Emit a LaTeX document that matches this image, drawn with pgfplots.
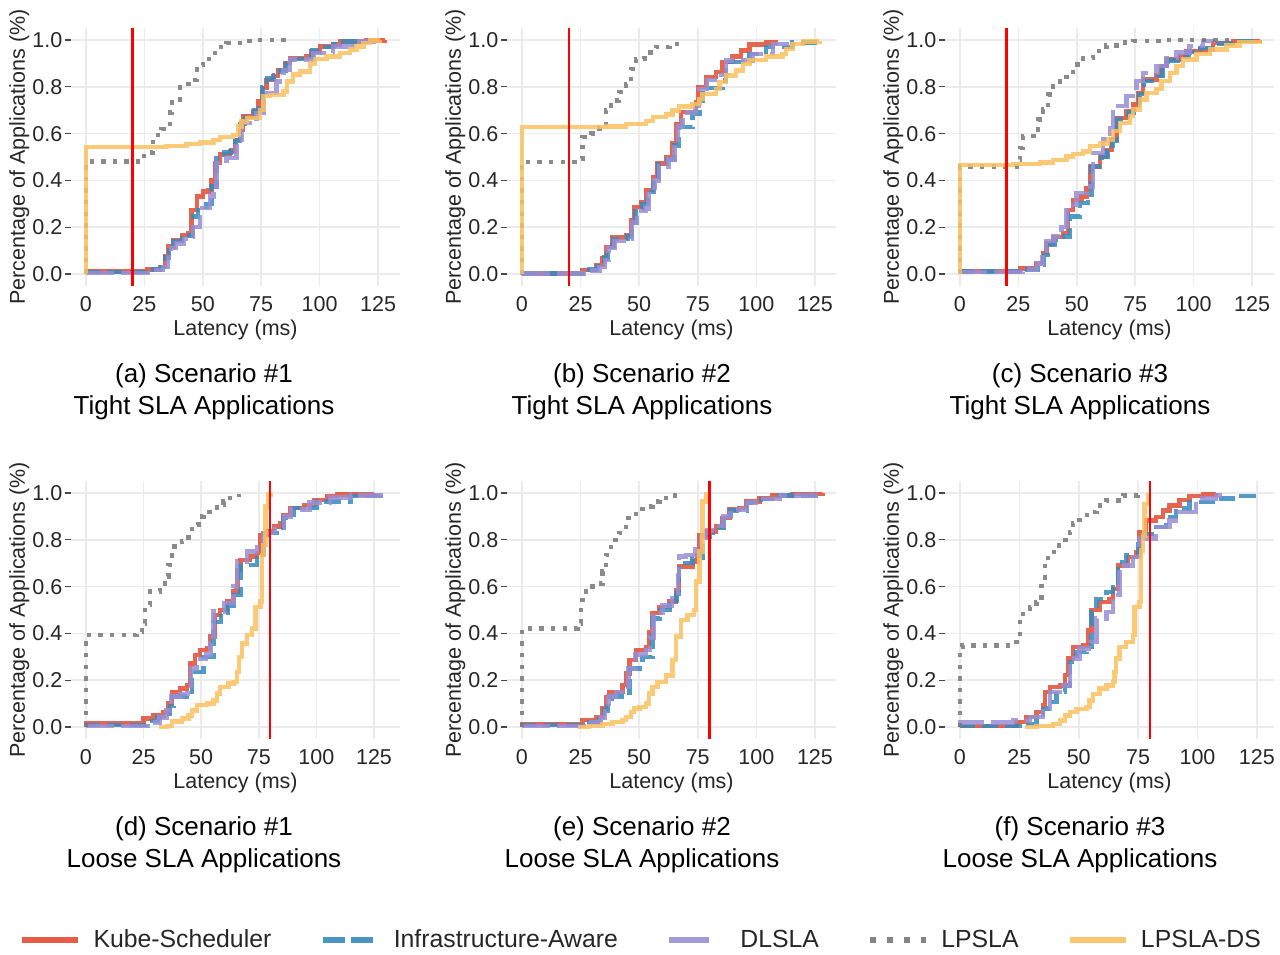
\documentclass[border=0pt]{standalone}
\usepackage{fontspec}
\setmainfont{Liberation Sans}
\usepackage{pgfplots}
\pgfplotsset{compat=1.18}

\definecolor{ckube}{HTML}{E24A33}
\definecolor{cinfra}{HTML}{348ABD}
\definecolor{cdlsla}{HTML}{988ED5}
\definecolor{clpsla}{HTML}{777777}
\definecolor{cds}{HTML}{FBC15E}
\definecolor{txt}{HTML}{262626}

\pgfplotsset{
  cdf/.style={
    width=164.5pt, height=128.7pt, scale only axis,
    ymin=-0.05, ymax=1.05,
    xtick={0,25,50,75,100,125},
    ytick={0,0.2,0.4,0.6,0.8,1.0},
    /pgf/number format/assume math mode=true,
    grid=major, grid style={draw=black!8, line width=0.8pt},
    axis line style={draw=none},
    tick align=outside, major tick length=2.8pt,
    ytick pos=left, xtick pos=bottom,
    ytick style={draw=txt!85, line width=0.6pt},
    xtick style={draw=none},
    tick label style={font=\fontsize{10.75}{12}\selectfont, text=txt},
    yticklabel style={xshift=2pt, /pgf/number format/.cd, fixed, fixed zerofill, precision=1},
    xticklabel style={yshift=1pt},
    label style={font=\fontsize{10.75}{12}\selectfont, text=txt},
    xlabel={Latency (ms)},
    ylabel={Percentage of Applications (\%)},
    xlabel style={at={(axis description cs:0.5,-0.170)}, anchor=center},
    ylabel style={at={(axis description cs:-0.157,0.5)}, anchor=center},
  },
  kube/.style={const plot, ckube, line width=2.2pt, opacity=0.85, forget plot},
  infra/.style={const plot, cinfra, line width=2.2pt, opacity=0.85, dash pattern=on 8.1pt off 3.5pt, forget plot},
  dlsla/.style={const plot, cdlsla, line width=2.2pt, opacity=0.85, dash pattern=on 14.5pt off 3.5pt, forget plot},
  lpsla/.style={const plot, clpsla, line width=2.2pt, opacity=0.85, dash pattern=on 2.2pt off 3.6pt, forget plot},
  lpslads/.style={const plot, cds, line width=2.2pt, opacity=0.85, forget plot},
  sla/.style={red, line width=1.2pt, forget plot},
}

\newcommand{\capfont}{\fontsize{13}{15}\selectfont}

\begin{document}
\begin{tikzpicture}
\useasboundingbox (0,0) rectangle (640pt,-477pt);

% (a) Scenario 1, tight SLA
\begin{axis}[cdf, at={(35.5pt,-14.15pt)}, anchor=north west, xmin=-6.4, xmax=134.4]
\addplot[kube] coordinates {(0,0)(0,0.01)(22,0.01)(26,0.02)(31.7,0.031)(33.8,0.074)(35.2,0.117)(37.4,0.146)(41,0.167)(43.8,0.174)(45.2,0.274)(47.4,0.331)(50.2,0.352)(52.4,0.36)(53.8,0.402)(55.2,0.474)(57.3,0.514)(61.6,0.524)(63.8,0.573)(65.9,0.616)(67.3,0.673)(71.6,0.695)(73.8,0.737)(75.3,0.795)(77.3,0.83)(80.2,0.847)(82.3,0.873)(85.2,0.902)(87.3,0.923)(94.4,0.93)(96.6,0.951)(100.1,0.973)(105.8,0.98)(108.7,0.994)(120,0.998)(128,1.0)};
\addplot[infra] coordinates {(0,0)(0,0.008)(23,0.008)(27,0.02)(32,0.03)(34,0.07)(35.5,0.12)(37.5,0.14)(41,0.155)(44,0.165)(45.9,0.245)(48,0.288)(51.6,0.30)(53.8,0.374)(55.9,0.51)(59,0.52)(62,0.53)(64,0.57)(66,0.64)(68,0.68)(72,0.70)(74,0.74)(75.5,0.80)(77.5,0.835)(80.5,0.85)(83,0.87)(85.5,0.9)(88,0.92)(95,0.93)(97,0.955)(101,0.97)(106,0.98)(109,0.993)(120,1.0)};
\addplot[dlsla] coordinates {(0,0)(0,0.005)(24,0.005)(28,0.018)(33,0.03)(35,0.07)(36.5,0.11)(38.5,0.13)(42,0.15)(44.5,0.16)(45.9,0.2)(48.8,0.281)(53,0.331)(54.5,0.36)(55.9,0.474)(60.2,0.495)(64.5,0.573)(66.6,0.645)(73,0.688)(75.9,0.773)(81.6,0.823)(84.5,0.873)(87.3,0.916)(97.3,0.944)(105.8,0.973)(114.4,0.994)(123,1.0)};
\addplot[lpsla] coordinates {(0,0)(0,0.48)(24.8,0.52)(28.8,0.595)(32.4,0.62)(36,0.69)(36.7,0.745)(40.2,0.80)(43.8,0.83)(47.4,0.894)(50.2,0.92)(55.2,0.97)(60.2,0.987)(67.3,0.996)(72,1.0)(85.9,1.0)};
\addplot[lpslads] coordinates {(0,0)(0,0.542)(34.5,0.548)(43,0.555)(48.8,0.562)(54.5,0.573)(57.3,0.585)(63,0.595)(65.2,0.63)(66.6,0.652)(68.8,0.666)(74.5,0.70)(75.9,0.76)(78.7,0.766)(84.5,0.78)(86,0.823)(88.7,0.852)(91.6,0.866)(95.9,0.90)(98,0.92)(103,0.93)(108.7,0.944)(113,0.959)(115.8,0.973)(118.7,0.987)(121.5,0.998)(125.8,1.0)};
\addplot[sla] coordinates {(20,-0.05)(20,1.05)};
\end{axis}

% (b) Scenario 2, tight SLA
\begin{axis}[cdf, at={(253.5pt,-14.15pt)}, anchor=north west, xmin=-6.38, xmax=133.98]
\addplot[kube] coordinates {(0,0)(0,0.003)(22,0.003)(25.9,0.017)(31.6,0.038)(34.4,0.067)(35.8,0.116)(38.7,0.156)(44.4,0.166)(46.5,0.23)(47.9,0.287)(50.8,0.308)(52.9,0.358)(55.8,0.415)(57.9,0.472)(61.5,0.5)(64.3,0.557)(65.7,0.642)(67.9,0.692)(74.3,0.734)(75,0.798)(78.5,0.841)(82.8,0.862)(85.6,0.905)(89.9,0.929)(93.5,0.955)(97,0.98)(104.1,0.99)(108.4,1.0)};
\addplot[infra] coordinates {(0,0)(0,0.003)(24,0.003)(26.5,0.02)(32,0.035)(35,0.07)(36.5,0.12)(39,0.15)(45,0.16)(47,0.22)(48.5,0.28)(51.5,0.3)(53.5,0.35)(56.2,0.41)(58.3,0.47)(62,0.49)(65,0.55)(67.1,0.628)(72.8,0.685)(75.7,0.741)(77.1,0.795)(85.6,0.827)(87.1,0.905)(97,0.94)(104.1,0.969)(115.5,0.99)(126.9,0.996)};
\addplot[dlsla] coordinates {(0,0)(0,0.002)(25,0.002)(28,0.015)(33,0.03)(35.5,0.06)(37,0.11)(39.5,0.14)(45.5,0.15)(47,0.22)(49,0.27)(53,0.28)(54,0.34)(56.5,0.4)(58.5,0.46)(62.5,0.49)(65,0.55)(66.5,0.63)(68.5,0.69)(74,0.72)(75.5,0.79)(79,0.83)(84,0.85)(87.1,0.912)(98.4,0.94)(107,0.983)(114.8,1.0)};
\addplot[lpsla] coordinates {(0,0)(0,0.479)(24.5,0.493)(25.9,0.585)(29.4,0.6)(33,0.628)(35.8,0.699)(38,0.741)(41.5,0.777)(44.4,0.8125)(46.5,0.876)(48.6,0.919)(52.2,0.947)(57.2,0.969)(62.9,0.983)(67.4,0.99)};
\addplot[lpslads] coordinates {(0,0)(0,0.628)(35.8,0.631)(44.4,0.642)(52.9,0.653)(55.8,0.67)(61.5,0.682)(64.3,0.699)(67.1,0.716)(72.8,0.727)(75.7,0.749)(77.1,0.77)(82.8,0.791)(84.2,0.82)(87.1,0.848)(91.3,0.869)(94.2,0.898)(97,0.915)(104.1,0.929)(111.2,0.94)(112.7,0.962)(115.5,0.983)(119.8,0.994)(126.9,0.997)};
\addplot[sla] coordinates {(20,-0.05)(20,1.05)};
\end{axis}

% (c) Scenario 3, tight SLA
\begin{axis}[cdf, at={(472.5pt,-14.15pt)}, anchor=north west, xmin=-6.4, xmax=134.4]
\addplot[kube] coordinates {(0,0)(0,0.014)(22.8,0.014)(25.7,0.024)(32.8,0.046)(35.6,0.089)(37,0.131)(39.9,0.157)(44.2,0.174)(46.3,0.274)(48.5,0.317)(52,0.331)(54.2,0.367)(55.9,0.46)(59.9,0.503)(62.7,0.531)(64.9,0.574)(67,0.667)(71.3,0.696)(74.1,0.724)(76.3,0.774)(78.4,0.831)(84.1,0.849)(86.2,0.889)(88.4,0.917)(94.1,0.931)(96.9,0.953)(102.6,0.96)(108.3,0.986)(116.9,0.996)(128.3,1.0)};
\addplot[infra] coordinates {(0,0)(0,0.01)(23.5,0.01)(26.5,0.02)(33.5,0.04)(36,0.08)(37.5,0.125)(40.5,0.145)(44.5,0.16)(47,0.246)(51.3,0.303)(54.9,0.317)(56.3,0.46)(60.5,0.5)(63.2,0.525)(65.3,0.57)(67.3,0.66)(71.8,0.69)(74.5,0.72)(76.8,0.77)(78.8,0.825)(84.5,0.845)(86.6,0.885)(88.8,0.912)(95,0.93)(98,0.95)(103,0.965)(109,0.985)(118,0.996)(127,1.0)};
\addplot[dlsla] coordinates {(0,0)(0,0.008)(24.5,0.008)(27,0.02)(33,0.045)(35.3,0.1)(36.8,0.14)(40,0.16)(43.5,0.2)(45.6,0.296)(49.9,0.346)(54.2,0.374)(57,0.517)(61.3,0.574)(64.1,0.624)(65.6,0.717)(71.3,0.76)(75.5,0.824)(78.4,0.86)(84.1,0.889)(88.4,0.924)(92.6,0.946)(98.3,0.974)(104,0.996)(108.3,1.0)};
\addplot[lpsla] coordinates {(0,0)(0,0.46)(24.2,0.489)(25.7,0.539)(27.1,0.589)(31.4,0.617)(33.5,0.66)(35.6,0.703)(37.8,0.767)(39.9,0.803)(42.8,0.824)(45.6,0.853)(48.5,0.896)(52.7,0.924)(57,0.953)(62.7,0.977)(68.4,0.989)(74.1,0.996)(86.9,1.0)(117,1.0)};
\addplot[lpslads] coordinates {(0,0)(0,0.467)(22.8,0.471)(34.2,0.477)(39.9,0.486)(45.6,0.503)(48.5,0.514)(52.7,0.524)(55.6,0.546)(59.9,0.557)(63.4,0.574)(65.6,0.61)(68.4,0.646)(72.7,0.674)(74.1,0.703)(77,0.746)(79.8,0.774)(84.1,0.791)(86.2,0.824)(89.8,0.86)(92.6,0.889)(95.5,0.917)(101.2,0.939)(106.9,0.96)(114,0.977)(119.7,0.991)(128.3,1.0)};
\addplot[sla] coordinates {(20,-0.05)(20,1.05)};
\end{axis}

% (d) Scenario 1, loose SLA
\begin{axis}[cdf, at={(35.5pt,-240.65pt)}, anchor=north west, xmin=-6.49, xmax=136.29]
\addplot[kube] coordinates {(0,0)(0,0.015)(22,0.015)(24.9,0.036)(29.3,0.05)(33.6,0.064)(35.8,0.1)(37.3,0.15)(40.9,0.164)(43.8,0.179)(45.2,0.271)(47.4,0.307)(49.6,0.329)(52.5,0.336)(53.9,0.386)(56.1,0.479)(58.3,0.5)(61.2,0.536)(64.1,0.579)(65.8,0.671)(67,0.714)(71.3,0.729)(74.2,0.743)(75.7,0.821)(78.6,0.836)(81.5,0.857)(84.4,0.871)(85.8,0.907)(88.7,0.936)(94.5,0.95)(98.9,0.971)(104.7,0.986)(109,0.993)(125,1.0)};
\addplot[infra] coordinates {(0,0)(0,0.008)(23,0.008)(26,0.025)(31,0.04)(34.5,0.055)(36.5,0.09)(38,0.13)(43.8,0.136)(46,0.236)(51,0.3)(55.4,0.45)(58.5,0.49)(61.5,0.52)(64.1,0.564)(67,0.693)(74.2,0.721)(77.1,0.829)(84.4,0.836)(85.8,0.893)(90.2,0.936)(100.3,0.964)(114.8,0.986)(127.9,1.0)};
\addplot[dlsla] coordinates {(0,0)(0,0.005)(24,0.005)(27,0.02)(32,0.04)(35,0.07)(37,0.13)(41,0.14)(44,0.16)(45.5,0.25)(48,0.29)(52,0.31)(54,0.36)(55.4,0.493)(60,0.53)(64.1,0.6)(65.5,0.707)(69.9,0.75)(74.2,0.779)(77.1,0.829)(82,0.85)(86,0.9)(89,0.93)(97,0.96)(106,0.98)(115,0.99)(127.9,1.0)};
\addplot[lpsla] coordinates {(0,0)(0,0.393)(22,0.407)(24.2,0.443)(25.7,0.521)(27.8,0.579)(32.2,0.6)(34.4,0.643)(35.8,0.693)(37.3,0.771)(41.6,0.793)(44.5,0.821)(46,0.864)(48.9,0.9)(51,0.919)(56.8,0.95)(59.7,0.964)(62.6,0.979)(66.3,0.996)};
\addplot[lpslads] coordinates {(31.5,0)(35.1,0.004)(37.3,0.024)(41.6,0.036)(44.5,0.05)(46,0.071)(48.1,0.093)(52.5,0.1)(55.4,0.114)(56.8,0.143)(58.3,0.171)(61.9,0.186)(64.1,0.193)(65.5,0.236)(66.3,0.3)(67.7,0.357)(69.9,0.393)(72.1,0.421)(73.5,0.514)(75.7,0.536)(76.4,0.736)(77.1,0.779)(77.9,0.943)(79.3,0.993)(80.3,1.0)};
\addplot[sla] coordinates {(80,-0.05)(80,1.05)};
\end{axis}

% (e) Scenario 2, loose SLA (holds the legend)
\begin{axis}[cdf, at={(253.5pt,-240.65pt)}, anchor=north west, xmin=-6.38, xmax=133.98,
  legend columns=5,
  legend image code/.code={\draw[#1] (0pt,0pt) -- (28pt,0pt);},
  legend style={at={(axis description cs:0.4043,-0.782)}, anchor=center,
    draw=none, fill=none, inner sep=0pt,
    font=\fontsize{12.4}{14}\selectfont, text=txt,
    nodes={inner sep=0pt},
    /tikz/every odd column/.style={column sep=6pt},
    /tikz/every even column/.style={column sep=24pt}},
]
\addlegendimage{ckube, line width=3.2pt, opacity=0.9}
\addlegendentry{Kube-Scheduler}
\addlegendimage{cinfra, line width=3.2pt, opacity=0.9, dash pattern=on 11pt off 3pt}
\addlegendentry{Infrastructure-Aware}
\addlegendimage{cdlsla, line width=3.2pt, opacity=0.9, dash pattern=on 20pt off 10pt}
\addlegendentry{DLSLA}
\addlegendimage{clpsla, line width=3.2pt, opacity=0.9, dash pattern=on 2.8pt off 5.7pt}
\addlegendentry{LPSLA}
\addlegendimage{cds, line width=3.2pt, opacity=0.9}
\addlegendentry{LPSLA-DS}
\addplot[kube] coordinates {(0,0)(0,0.013)(23,0.013)(25.9,0.029)(31.6,0.043)(34.4,0.079)(35.8,0.129)(37.3,0.15)(42.9,0.179)(44.4,0.229)(45.8,0.286)(48.6,0.329)(52.9,0.343)(54.3,0.407)(55.7,0.486)(58.6,0.514)(62.9,0.536)(65.7,0.586)(67.1,0.686)(72.8,0.707)(74.9,0.736)(75.7,0.821)(78.5,0.836)(82.8,0.857)(85.6,0.893)(88.5,0.929)(92.7,0.936)(95.6,0.964)(101.3,0.979)(106.9,0.99)(115.5,0.997)(128.3,1.0)};
\addplot[infra] coordinates {(0,0)(0,0.008)(24,0.008)(27,0.02)(33,0.035)(35,0.07)(36.5,0.12)(38.5,0.13)(44.4,0.136)(45.8,0.25)(51.5,0.3)(55.7,0.464)(59,0.5)(63,0.525)(66,0.57)(67.1,0.7)(72.8,0.721)(77.1,0.814)(80,0.83)(84,0.85)(86,0.89)(89,0.925)(96,0.96)(102,0.975)(108,0.99)(125.4,1.0)};
\addplot[dlsla] coordinates {(0,0)(0,0.005)(24.5,0.005)(28,0.02)(33.5,0.04)(35.5,0.08)(37,0.13)(40,0.15)(44,0.17)(45.5,0.25)(48.5,0.31)(53,0.33)(54.5,0.38)(56.2,0.49)(60,0.52)(64,0.55)(66.5,0.65)(67.1,0.729)(69.9,0.736)(74,0.76)(76.5,0.81)(79,0.84)(83,0.86)(86,0.9)(89,0.93)(96,0.96)(103,0.975)(110,0.99)(125.4,1.0)};
\addplot[lpsla] coordinates {(0,0)(0,0.421)(23.7,0.443)(25.2,0.521)(25.9,0.579)(28.7,0.6)(32.3,0.614)(34.4,0.664)(35.8,0.736)(38,0.8)(41.5,0.829)(44.4,0.893)(48.6,0.921)(51.5,0.943)(55.7,0.964)(58.6,0.979)(64.3,0.99)(68.5,0.997)};
\addplot[lpslads] coordinates {(23.7,0)(28.7,0.004)(34.4,0.014)(38.7,0.021)(42.9,0.029)(44.4,0.043)(46.5,0.064)(47.9,0.079)(50.1,0.086)(52.9,0.1)(54.3,0.143)(55.7,0.171)(57.9,0.193)(61.4,0.221)(64.3,0.286)(65.7,0.386)(67.8,0.457)(70.7,0.479)(73.5,0.5)(74.2,0.621)(75.7,0.75)(77.1,0.964)(78.5,0.996)(79.9,1.0)};
\addplot[sla] coordinates {(80,-0.05)(80,1.05)};
\end{axis}

% (f) Scenario 3, loose SLA
\begin{axis}[cdf, at={(472.5pt,-240.65pt)}, anchor=north west, xmin=-6.3, xmax=132.2]
\addplot[kube] coordinates {(0,0)(0,0.005)(19.6,0.005)(23.8,0.021)(28,0.043)(32.2,0.064)(35,0.093)(35.7,0.15)(37.8,0.171)(42,0.178)(44.1,0.221)(45.5,0.292)(47.6,0.342)(51.8,0.349)(53.9,0.413)(55.3,0.499)(58.8,0.534)(63,0.548)(64.4,0.591)(66.5,0.691)(70.7,0.726)(74.2,0.748)(75.6,0.833)(78.4,0.883)(82.6,0.897)(85.4,0.926)(88.2,0.947)(92.4,0.969)(96.6,0.987)(102.2,0.993)(107.8,1.0)};
\addplot[infra] coordinates {(0,0)(0,0.005)(25.2,0.014)(32.2,0.036)(35,0.078)(37.1,0.107)(40.6,0.14)(42.7,0.15)(44.1,0.178)(46.2,0.278)(49,0.32)(53.2,0.342)(55.3,0.491)(57.4,0.548)(61.6,0.577)(64.4,0.62)(66.5,0.705)(70,0.734)(74.9,0.783)(77,0.826)(82.6,0.855)(86.8,0.897)(91,0.933)(96.6,0.962)(106.4,0.976)(114.8,0.987)(124.6,0.993)(125.5,0.996)};
\addplot[dlsla] coordinates {(0,0)(0,0.02)(22.4,0.028)(29.4,0.043)(35,0.078)(37.8,0.15)(43.4,0.178)(46.2,0.292)(50.4,0.335)(55.3,0.363)(57.4,0.463)(61.6,0.491)(64.4,0.563)(67.2,0.691)(72.8,0.726)(75.6,0.805)(82.6,0.855)(88.2,0.883)(92.4,0.919)(99.4,0.976)(107.8,0.99)(109.2,1.0)};
\addplot[lpsla] coordinates {(0,0)(0,0.342)(1,0.349)(23.8,0.385)(25.2,0.449)(26.6,0.484)(29.4,0.513)(32.2,0.534)(34.3,0.62)(35.7,0.712)(37.1,0.748)(40.6,0.776)(44.1,0.798)(46.2,0.833)(47.6,0.869)(50.4,0.905)(54.6,0.919)(57.4,0.947)(61.6,0.968)(68.6,0.99)(74.9,0.997)};
\addplot[lpslads] coordinates {(27.3,0)(32.2,0.004)(39.2,0.014)(42,0.028)(44.1,0.05)(46.2,0.064)(49,0.078)(53.2,0.085)(54.6,0.114)(56,0.142)(58.8,0.164)(61.6,0.178)(64.4,0.192)(65.1,0.235)(65.8,0.292)(67.2,0.342)(70,0.363)(72.8,0.392)(73.5,0.513)(75.6,0.534)(76.3,0.755)(77,0.819)(77.7,0.954)(79.1,1.0)};
\addplot[sla] coordinates {(80,-0.05)(80,1.05)};
\end{axis}

% captions
\node[font=\capfont] at (102pt,-188pt) {(a) Scenario \#1};
\node[font=\capfont] at (102pt,-204pt) {Tight SLA Applications};
\node[font=\capfont] at (321pt,-188pt) {(b) Scenario \#2};
\node[font=\capfont] at (321pt,-204pt) {Tight SLA Applications};
\node[font=\capfont] at (540pt,-188pt) {(c) Scenario \#3};
\node[font=\capfont] at (540pt,-204pt) {Tight SLA Applications};
\node[font=\capfont] at (102pt,-414.5pt) {(d) Scenario \#1};
\node[font=\capfont] at (102pt,-430.5pt) {Loose SLA Applications};
\node[font=\capfont] at (321pt,-414.5pt) {(e) Scenario \#2};
\node[font=\capfont] at (321pt,-430.5pt) {Loose SLA Applications};
\node[font=\capfont] at (540pt,-414.5pt) {(f) Scenario \#3};
\node[font=\capfont] at (540pt,-430.5pt) {Loose SLA Applications};
\end{tikzpicture}
\end{document}
